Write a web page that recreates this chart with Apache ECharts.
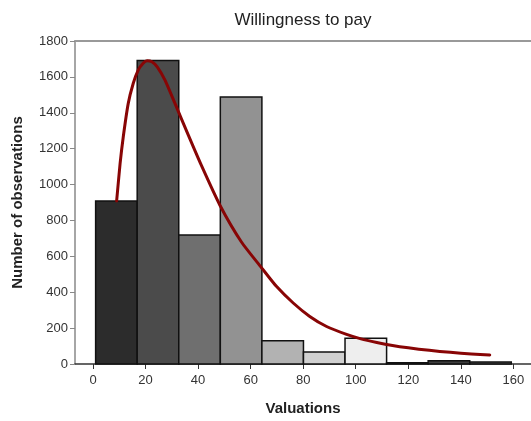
<!DOCTYPE html>
<html>
<head>
<meta charset="utf-8">
<script src="https://cdn.jsdelivr.net/npm/echarts@6/dist/echarts.min.js"></script>
<style>html,body{margin:0;padding:0;background:#fff;}#c{width:531px;height:421px;}</style>
</head>
<body>
<div id="c"></div>
<script>
// Histogram bins (start, end) and counts
var binStarts = [1, 16.82, 32.64, 48.46, 64.28, 80.1, 95.92, 111.74, 127.56, 143.38];
var binEnds   = [16.82, 32.64, 48.46, 64.28, 80.1, 95.92, 111.74, 127.56, 143.38, 159.2];
var counts    = [909, 1692, 719, 1488, 129, 67, 144, 7, 18, 11];
var barColors = ['#2c2c2c', '#4b4b4b', '#6f6f6f', '#929292', '#b2b2b2', '#d0d0d0', '#eeeeee', '#ffffff', '#3e3e3e', '#5a5a5a'];
// Fitted density curve (x, count)
var curveX = [9.0, 10.3, 11.5, 13.4, 15.3, 17.2, 19.0, 20.6, 22.4, 24.5, 27.4, 31.2, 36.2, 41.3, 48.3, 56.5, 64.5, 69.8, 76.2, 82.5, 88.9, 96.5, 102, 108, 114, 120, 128, 136, 144, 151];
var curveY = [909, 1115, 1264, 1451, 1563, 1638, 1675, 1690, 1684, 1655, 1582, 1452, 1278, 1105, 885, 680, 530, 433, 340, 265, 209, 165, 140, 120, 103, 90, 76, 65, 56, 50];
var xTicks = [0, 20, 40, 60, 80, 100, 120, 140, 160];
var titleText = 'Willingness to pay';
var xName = 'Valuations';
var yName = 'Number of observations';

var barData = binStarts.map(function (s, i) { return [s, binEnds[i], counts[i], i]; });
var curveData = curveX.map(function (x, i) { return [x, curveY[i]]; });

var chart = echarts.init(document.getElementById('c'), null, {renderer: 'canvas'});
chart.setOption({
  animation: false,
  backgroundColor: '#fff',
  title: {
    text: titleText, left: 298, top: 7, textAlign: 'center',
    textStyle: {fontFamily: 'Liberation Sans, Arial', fontSize: 17, fontWeight: 'normal', color: '#222'}
  },
  grid: {left: 75, right: 0, top: 41, bottom: 57, containLabel: false},
  xAxis: [{
    type: 'value', min: -6.85, max: 166.7, position: 'bottom',
    name: xName, nameLocation: 'middle', nameGap: 37,
    nameTextStyle: {fontFamily: 'Liberation Sans, Arial', fontSize: 15, fontWeight: 'bold', color: '#222'},
    axisLine: {show: true, onZero: false, lineStyle: {color: '#333', width: 1.5}},
    axisTick: {show: true, customValues: xTicks, length: 5, lineStyle: {color: '#333'}},
    axisLabel: {customValues: xTicks, margin: 10, fontFamily: 'Liberation Sans, Arial', fontSize: 13, color: '#333'},
    splitLine: {show: false}
  }, {
    type: 'value', min: -6.85, max: 166.7, position: 'top',
    axisLine: {show: true, onZero: false, lineStyle: {color: '#999', width: 2}},
    axisTick: {show: false}, axisLabel: {show: false}, splitLine: {show: false}
  }],
  yAxis: {
    type: 'value', min: 0, max: 1800, interval: 200,
    name: yName, nameLocation: 'middle', nameGap: 50,
    nameTextStyle: {fontFamily: 'Liberation Sans, Arial', fontSize: 15, fontWeight: 'bold', color: '#222'},
    axisLine: {show: true, onZero: false, lineStyle: {color: '#888', width: 1.5}},
    axisTick: {show: true, length: 5, lineStyle: {color: '#888'}},
    axisLabel: {margin: 7, fontFamily: 'Liberation Sans, Arial', fontSize: 13, color: '#333',
      formatter: function (v) { return String(v); }},
    splitLine: {show: false}
  },
  series: [{
    type: 'custom',
    xAxisIndex: 0,
    data: barData,
    renderItem: function (params, api) {
      var p0 = api.coord([api.value(0), api.value(2)]);
      var p1 = api.coord([api.value(1), 0]);
      var idx = api.value(3);
      return {
        type: 'rect',
        shape: {x: p0[0], y: p0[1], width: p1[0] - p0[0], height: p1[1] - p0[1]},
        style: {fill: barColors[idx], stroke: '#111', lineWidth: 1.5}
      };
    },
    encode: {x: [0, 1], y: 2},
    z: 2
  }, {
    type: 'line',
    xAxisIndex: 0,
    data: curveData,
    smooth: 0.2,
    showSymbol: false,
    lineStyle: {color: '#880505', width: 3, join: 'round', cap: 'round'},
    z: 3
  }]
});
</script>
</body>
</html>
